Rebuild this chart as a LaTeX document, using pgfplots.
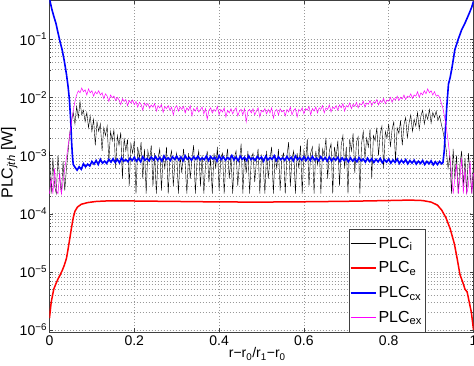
\documentclass[border=0pt]{standalone}
\usepackage{pgfplots}
\pgfplotsset{compat=1.18}
\usepackage{fontspec}
\setmainfont{Liberation Sans}
\definecolor{mblue}{RGB}{0,0,255}
\definecolor{mred}{RGB}{255,0,0}
\definecolor{mmag}{RGB}{255,0,255}
\begin{document}
\begin{tikzpicture}
\begin{axis}[
  at={(0pt,0pt)}, anchor=south west,
  scale only axis, width=424pt, height=332pt,
  ymode=log, xmin=0, xmax=1, ymin=9.2e-7, ymax=0.473,
  xtick={0,0.2,0.4,0.6,0.8,1}, xticklabels={0,0.2,0.4,0.6,0.8,1},
  ytick={1e-6,1e-5,1e-4,1e-3,1e-2,1e-1},
  yticklabels={10\textsuperscript{−6},10\textsuperscript{−5},10\textsuperscript{−4},10\textsuperscript{−3},10\textsuperscript{−2},10\textsuperscript{−1}},
  grid=both,
  major grid style={dash pattern=on 0.8pt off 2.2pt, gray!80, line width=0.5pt},
  minor grid style={dash pattern=on 0.8pt off 2.2pt, gray!80, line width=0.5pt},
  axis line style={gray!50!black, line width=0.5pt},
  tick style={gray!50!black},
  major tick length=4pt, minor tick length=2pt,
  tick label style={font=\fontsize{14}{16}\selectfont},
  yticklabel style={xshift=1pt},
  xlabel={r−r\textsubscript{0}/r\textsubscript{1}−r\textsubscript{0}},
  xlabel style={font=\fontsize{14}{16}\selectfont, at={(axis description cs:0.49,-0.066)}, anchor=center},
  ylabel={PLC\textsubscript{\itshape jth} [W]},
  ylabel style={font=\fontsize{16}{18}\selectfont, at={(axis description cs:-0.095,0.51)}, anchor=center},
  legend style={at={(0.886,0)}, anchor=south east, draw=gray!50!black, fill=white,
    font=\fontsize{16}{18}\selectfont, row sep=8pt, inner xsep=1pt, inner ysep=6pt},
  legend cell align=left,
  legend image code/.code={\draw[#1] (0pt,0pt) -- (25pt,0pt);},
]
% PLC_i (black)
\addplot[black, line width=0.4pt] table {
0.000 1.2e-3
0.004 2.2e-4
0.008 9e-4
0.012 3e-4
0.016 2.2e-4
0.020 1e-3
0.024 4e-4
0.028 2.2e-4
0.032 8e-4
0.036 2.5e-4
0.040 6e-4
0.044 1.2e-3
0.048 2.5e-3
0.052 4e-3
0.056 5.5e-3
0.060 3.5e-3
0.064 7e-3
0.068 4.5e-3
0.072 8.5e-3
0.076 5e-3
0.080 6e-3
0.084 3.8e-3
0.088 5.5e-3
0.092 3e-3
0.096 4.8e-3
0.100 2.6e-3
0.104 4.2e-3
0.108 1.5e-3
0.112 3.8e-3
0.116 2.6e-3
0.120 3.5e-3
0.124 1.2e-3
0.128 3e-3
0.132 2.2e-3
0.136 3.2e-3
0.140 8e-4
0.144 2.6e-3
0.148 1.8e-3
0.152 2.8e-3
0.156 6e-4
0.160 2.2e-3
0.164 1.5e-3
0.168 2.5e-3
0.172 4e-4
0.176 2e-3
0.180 1.2e-3
0.184 1.9e-3
0.188 3e-4
0.192 1.6e-3
0.196 1.1e-3
0.200 1.8e-3
0.204 2.2e-4
0.208 1.4e-3
0.212 9e-4
0.216 1.7e-3
0.220 4e-4
0.224 1.3e-3
0.228 2.2e-4
0.232 1.2e-3
0.236 8e-4
0.240 1.5e-3
0.244 3e-4
0.248 1.1e-3
0.252 2.2e-4
0.256 9e-4
0.260 1.3e-3
0.264 2.5e-4
0.268 1e-3
0.272 6e-4
0.276 1.4e-3
0.280 2.2e-4
0.284 9e-4
0.288 1.2e-3
0.292 3e-4
0.296 8e-4
0.300 1.1e-3
0.304 2.2e-4
0.308 1e-3
0.312 5e-4
0.316 1.3e-3
0.320 7e-4
0.324 2.2e-4
0.328 1.1e-3
0.332 4e-4
0.336 9e-4
0.340 1.5e-3
0.344 2.2e-4
0.348 8e-4
0.352 1.2e-3
0.356 3e-4
0.360 1e-3
0.364 2.2e-4
0.368 7e-4
0.372 1.2e-3
0.376 3.5e-4
0.380 9e-4
0.384 2.2e-4
0.388 1.1e-3
0.392 6e-4
0.396 1.4e-3
0.400 2.5e-4
0.404 9e-4
0.408 1.1e-3
0.412 2.2e-4
0.416 8e-4
0.420 1.3e-3
0.424 4e-4
0.428 1e-3
0.432 2.2e-4
0.436 9e-4
0.440 1.2e-3
0.444 3e-4
0.448 8e-4
0.452 1.6e-3
0.456 2.2e-4
0.460 1e-3
0.464 5e-4
0.468 1.2e-3
0.472 2.2e-4
0.476 9e-4
0.480 1.1e-3
0.484 3.5e-4
0.488 8e-4
0.492 1.3e-3
0.496 2.2e-4
0.500 1e-3
0.504 7e-4
0.508 2.2e-4
0.512 1.2e-3
0.516 4e-4
0.520 9e-4
0.524 1.4e-3
0.528 2.2e-4
0.532 1e-3
0.536 6e-4
0.540 1.3e-3
0.544 2.5e-4
0.548 9e-4
0.552 1.1e-3
0.556 2.2e-4
0.560 1e-3
0.564 1.7e-3
0.568 3e-4
0.572 9e-4
0.576 1.2e-3
0.580 2.2e-4
0.584 1.1e-3
0.588 6e-4
0.592 1.5e-3
0.596 2.2e-4
0.600 1.2e-3
0.604 8e-4
0.608 1.9e-3
0.612 3e-4
0.616 1.1e-3
0.620 1.4e-3
0.624 2.2e-4
0.628 1.2e-3
0.632 7e-4
0.636 1.6e-3
0.640 2.2e-4
0.644 1.3e-3
0.648 1e-3
0.652 2e-3
0.656 4e-4
0.660 1.2e-3
0.664 1.6e-3
0.668 2.2e-4
0.672 1.4e-3
0.676 9e-4
0.680 1.8e-3
0.684 3e-4
0.688 1.5e-3
0.692 2.2e-3
0.696 6e-4
0.700 1.4e-3
0.704 2.2e-4
0.708 1.9e-3
0.712 1.2e-3
0.716 2.4e-3
0.720 5e-4
0.724 1.7e-3
0.728 2.1e-3
0.732 2.2e-4
0.736 1.6e-3
0.740 2.6e-3
0.744 9e-4
0.748 2e-3
0.752 1.4e-3
0.756 2.8e-3
0.760 4e-4
0.764 2.2e-3
0.768 1.8e-3
0.772 3e-3
0.776 1e-3
0.780 2.4e-3
0.784 3.2e-3
0.788 6e-4
0.792 2.6e-3
0.796 2e-3
0.800 3.5e-3
0.804 1.4e-3
0.808 2.8e-3
0.812 3.8e-3
0.816 8e-4
0.820 3e-3
0.824 2.4e-3
0.828 4e-3
0.832 1.5e-3
0.836 3.4e-3
0.840 4.5e-3
0.844 2e-3
0.848 3.6e-3
0.852 5e-3
0.856 2.6e-3
0.860 4.2e-3
0.864 3.2e-3
0.868 5.5e-3
0.872 2.8e-3
0.876 4.8e-3
0.880 6e-3
0.884 3.5e-3
0.888 5.2e-3
0.892 4.2e-3
0.896 6.2e-3
0.900 3.6e-3
0.904 5.5e-3
0.908 4.5e-3
0.912 5.8e-3
0.916 4e-3
0.920 4.8e-3
0.924 3.5e-3
0.928 2.6e-3
0.932 1.8e-3
0.936 1.2e-3
0.940 6e-4
0.944 1e-3
0.948 2.2e-4
0.952 1.3e-3
0.956 4e-4
0.960 1e-3
0.964 2.2e-4
0.968 7e-4
0.972 1.2e-3
0.976 3e-4
0.980 9e-4
0.984 2.2e-4
0.988 1.1e-3
0.992 5e-4
0.996 2.2e-4
1.000 8e-4
};
\addlegendentry{PLC\textsubscript{i}}
% PLC_e (red)
\addplot[mred, line width=1.5pt] table {
0.000 1.6e-6
0.004 3e-6
0.010 5e-6
0.015 6.2e-6
0.020 7.5e-6
0.025 8.8e-6
0.030 1.05e-5
0.035 1.3e-5
0.040 1.7e-5
0.044 2.5e-5
0.048 3.8e-5
0.052 5.8e-5
0.056 8.5e-5
0.060 1.1e-4
0.066 1.3e-4
0.075 1.45e-4
0.090 1.55e-4
0.110 1.62e-4
0.140 1.66e-4
0.200 1.65e-4
0.300 1.62e-4
0.400 1.59e-4
0.500 1.58e-4
0.600 1.6e-4
0.700 1.63e-4
0.800 1.68e-4
0.850 1.71e-4
0.880 1.68e-4
0.900 1.58e-4
0.915 1.4e-4
0.925 1.15e-4
0.935 8.5e-5
0.945 5.5e-5
0.955 3e-5
0.962 1.6e-5
0.968 9e-6
0.975 6.5e-6
0.980 5e-6
0.985 4.5e-6
0.990 3e-6
0.995 2e-6
1.000 1e-6
};
\addlegendentry{PLC\textsubscript{e}}
% PLC_cx (blue)
\addplot[mblue, line width=1.6pt] table {
0.000 0.5
0.005 0.34
0.010 0.25
0.015 0.19
0.020 0.13
0.025 0.09
0.030 0.065
0.035 0.042
0.040 0.025
0.044 0.015
0.047 0.009
0.050 0.004
0.052 0.0018
0.054 0.001
0.056 7e-4
0.060 6.3e-4
0.065 5.6e-4
0.070 6.4e-4
0.075 5.8e-4
0.080 7.2e-4
0.085 6.4e-4
0.090 7.1e-4
0.095 6.6e-4
0.100 7.9e-4
0.105 7.1e-4
0.110 8.2e-4
0.115 7.0e-4
0.120 8.6e-4
0.125 7.4e-4
0.130 8.0e-4
0.135 7.3e-4
0.140 8.6e-4
0.145 7.7e-4
0.150 8.8e-4
0.155 7.6e-4
0.160 8.6e-4
0.165 7.5e-4
0.170 9.1e-4
0.175 8.0e-4
0.180 8.5e-4
0.185 7.8e-4
0.190 9.0e-4
0.195 8.2e-4
0.200 9.3e-4
0.205 8.0e-4
0.210 8.9e-4
0.215 7.8e-4
0.220 9.5e-4
0.225 8.3e-4
0.230 8.9e-4
0.235 8.1e-4
0.240 9.4e-4
0.245 8.4e-4
0.250 9.6e-4
0.255 8.3e-4
0.260 9.2e-4
0.265 8.0e-4
0.270 9.8e-4
0.275 8.5e-4
0.280 9.1e-4
0.285 8.2e-4
0.290 9.5e-4
0.295 8.6e-4
0.300 9.7e-4
0.305 8.4e-4
0.310 9.4e-4
0.315 8.1e-4
0.320 9.9e-4
0.325 8.6e-4
0.330 9.2e-4
0.335 8.3e-4
0.340 9.5e-4
0.345 8.6e-4
0.350 9.7e-4
0.355 8.4e-4
0.360 9.1e-4
0.365 8.5e-4
0.370 9.8e-4
0.375 8.2e-4
0.380 9.6e-4
0.385 8.7e-4
0.390 9.3e-4
0.395 8.0e-4
0.400 9.9e-4
0.405 8.5e-4
0.410 9.5e-4
0.415 8.3e-4
0.420 9.2e-4
0.425 8.6e-4
0.430 1.0e-3
0.435 8.4e-4
0.440 9.4e-4
0.445 8.1e-4
0.450 9.7e-4
0.455 8.6e-4
0.460 9.3e-4
0.465 8.2e-4
0.470 9.8e-4
0.475 8.5e-4
0.480 9.1e-4
0.485 8.3e-4
0.490 9.6e-4
0.495 8.7e-4
0.500 9.4e-4
0.505 8.0e-4
0.510 9.7e-4
0.515 8.4e-4
0.520 9.2e-4
0.525 8.6e-4
0.530 9.9e-4
0.535 8.2e-4
0.540 9.5e-4
0.545 8.5e-4
0.550 9.1e-4
0.555 8.3e-4
0.560 9.6e-4
0.565 8.4e-4
0.570 9.3e-4
0.575 8.1e-4
0.580 9.8e-4
0.585 8.5e-4
0.590 9.2e-4
0.595 8.3e-4
0.600 9.5e-4
0.605 8.2e-4
0.610 9.3e-4
0.615 8.2e-4
0.620 9.6e-4
0.625 8.4e-4
0.630 9.0e-4
0.635 8.1e-4
0.640 9.5e-4
0.645 8.3e-4
0.650 9.2e-4
0.655 8.0e-4
0.660 9.4e-4
0.665 8.1e-4
0.670 9.0e-4
0.675 8.3e-4
0.680 9.3e-4
0.685 7.9e-4
0.690 9.1e-4
0.695 8.2e-4
0.700 8.9e-4
0.705 7.8e-4
0.710 9.1e-4
0.715 8.0e-4
0.720 8.8e-4
0.725 7.8e-4
0.730 9.2e-4
0.735 8.1e-4
0.740 8.7e-4
0.745 7.7e-4
0.750 9.0e-4
0.755 7.9e-4
0.760 8.8e-4
0.765 7.6e-4
0.770 8.6e-4
0.775 7.8e-4
0.780 8.9e-4
0.785 7.5e-4
0.790 8.5e-4
0.795 7.7e-4
0.800 8.7e-4
0.805 7.4e-4
0.810 8.4e-4
0.815 7.6e-4
0.820 8.7e-4
0.825 7.3e-4
0.830 8.3e-4
0.835 7.5e-4
0.840 8.5e-4
0.845 7.2e-4
0.850 8.2e-4
0.855 7.4e-4
0.860 8.3e-4
0.865 7.1e-4
0.870 8.0e-4
0.875 7.3e-4
0.880 8.2e-4
0.885 7.0e-4
0.890 7.9e-4
0.895 7.2e-4
0.900 8.1e-4
0.905 6.9e-4
0.910 7.8e-4
0.915 7.0e-4
0.920 7.9e-4
0.925 7.2e-4
0.928 7.6e-4
0.931 1.2e-3
0.934 3e-3
0.937 7e-3
0.941 1.7e-2
0.945 2.2e-2
0.950 3.5e-2
0.956 6.6e-2
0.964 0.1
0.972 0.145
0.980 0.19
0.990 0.28
0.996 0.36
1.000 0.45
};
\addlegendentry{PLC\textsubscript{cx}}
% PLC_ex (magenta)
\addplot[mmag, line width=0.5pt] table {
0.000 2.2e-4
0.004 4e-4
0.008 2.2e-4
0.012 6e-4
0.016 2.5e-4
0.020 2.2e-4
0.024 5e-4
0.028 2.2e-4
0.032 3.5e-4
0.036 6e-4
0.040 9e-4
0.044 1.5e-3
0.048 2.4e-3
0.052 3.8e-3
0.056 6e-3
0.060 8.5e-3
0.064 1.1e-2
0.068 1.3e-2
0.072 1.2e-2
0.076 1.45e-2
0.080 1.25e-2
0.084 1.35e-2
0.088 1.1e-2
0.092 1.4e-2
0.096 1.2e-2
0.100 1.3e-2
0.104 1.05e-2
0.108 1.25e-2
0.112 1.15e-2
0.116 1.3e-2
0.120 1.1e-2
0.124 1.2e-2
0.128 9.5e-3
0.132 1.15e-2
0.136 1.05e-2
0.140 8.5e-3
0.144 1.1e-2
0.148 9.8e-3
0.152 1.05e-2
0.156 8.8e-3
0.160 1e-2
0.164 9e-3
0.168 7.5e-3
0.172 9.5e-3
0.176 8.5e-3
0.180 9.2e-3
0.184 7.2e-3
0.188 8.8e-3
0.192 8e-3
0.196 9e-3
0.200 7.5e-3
0.204 8.5e-3
0.208 6.8e-3
0.212 8.2e-3
0.216 7.6e-3
0.220 6e-3
0.224 8e-3
0.228 7.2e-3
0.232 7.8e-3
0.236 6.5e-3
0.240 7.4e-3
0.244 6.8e-3
0.248 7.8e-3
0.252 5.8e-3
0.256 7.2e-3
0.260 6.6e-3
0.264 7.5e-3
0.268 5.5e-3
0.272 7e-3
0.276 6.4e-3
0.280 7.2e-3
0.284 6e-3
0.288 6.8e-3
0.292 5e-3
0.296 6.6e-3
0.300 7.2e-3
0.304 5.8e-3
0.308 6.8e-3
0.312 6.2e-3
0.316 7e-3
0.320 5.4e-3
0.324 6.6e-3
0.328 6e-3
0.332 7.2e-3
0.336 4.8e-3
0.340 6.4e-3
0.344 5.8e-3
0.348 6.8e-3
0.352 5.6e-3
0.356 6.2e-3
0.360 6.8e-3
0.364 5.2e-3
0.368 6.4e-3
0.372 4.2e-3
0.376 6e-3
0.380 6.6e-3
0.384 5.4e-3
0.388 6.2e-3
0.392 5.8e-3
0.396 7e-3
0.400 5e-3
0.404 6.2e-3
0.408 5.6e-3
0.412 6.6e-3
0.416 4.6e-3
0.420 6e-3
0.424 5.4e-3
0.428 6.4e-3
0.432 5.2e-3
0.436 6e-3
0.440 6.6e-3
0.444 4.8e-3
0.448 5.8e-3
0.452 6.2e-3
0.456 5e-3
0.460 6.4e-3
0.464 3.8e-3
0.468 5.8e-3
0.472 6.2e-3
0.476 5.4e-3
0.480 6.4e-3
0.484 5e-3
0.488 5.8e-3
0.492 6.6e-3
0.496 4.6e-3
0.500 6e-3
0.504 5.6e-3
0.508 6.4e-3
0.512 5.2e-3
0.516 6.2e-3
0.520 5.4e-3
0.524 6.6e-3
0.528 4.4e-3
0.532 5.8e-3
0.536 6.2e-3
0.540 5e-3
0.544 6.4e-3
0.548 5.6e-3
0.552 6e-3
0.556 4.8e-3
0.560 6.2e-3
0.564 5.6e-3
0.568 6.8e-3
0.572 5e-3
0.576 6e-3
0.580 6.4e-3
0.584 4.6e-3
0.588 6.2e-3
0.592 5.8e-3
0.596 6.6e-3
0.600 5.2e-3
0.604 6.4e-3
0.608 6e-3
0.612 7e-3
0.616 5e-3
0.620 6.4e-3
0.624 5.8e-3
0.628 6.8e-3
0.632 5.4e-3
0.636 6.6e-3
0.640 6.2e-3
0.644 7.2e-3
0.648 5.4e-3
0.652 6.6e-3
0.656 6.2e-3
0.660 7.4e-3
0.664 5.6e-3
0.668 6.8e-3
0.672 6.4e-3
0.676 7.2e-3
0.680 6e-3
0.684 7.4e-3
0.688 6.6e-3
0.692 7.8e-3
0.696 5.8e-3
0.700 7.2e-3
0.704 6.8e-3
0.708 8e-3
0.712 6.4e-3
0.716 7.6e-3
0.720 7e-3
0.724 8.2e-3
0.728 6.6e-3
0.732 7.8e-3
0.736 7.4e-3
0.740 8.6e-3
0.744 6.8e-3
0.748 8e-3
0.752 7.6e-3
0.756 8.8e-3
0.760 7.2e-3
0.764 8.4e-3
0.768 8e-3
0.772 9.2e-3
0.776 7.4e-3
0.780 8.8e-3
0.784 8.2e-3
0.788 9.6e-3
0.792 7.8e-3
0.796 9e-3
0.800 8.6e-3
0.804 1e-2
0.808 8.2e-3
0.812 9.6e-3
0.816 9e-3
0.820 1.05e-2
0.824 8.8e-3
0.828 1e-2
0.832 9.4e-3
0.836 1.1e-2
0.840 9.2e-3
0.844 1.05e-2
0.848 1e-2
0.852 1.15e-2
0.856 9.6e-3
0.860 1.1e-2
0.864 1.05e-2
0.868 1.25e-2
0.872 1e-2
0.876 1.2e-2
0.880 1.1e-2
0.884 1.3e-2
0.888 1.15e-2
0.892 1.4e-2
0.896 1.2e-2
0.900 1.3e-2
0.904 1.1e-2
0.908 1.25e-2
0.912 1.05e-2
0.916 1.1e-2
0.920 1e-2
0.924 8e-3
0.928 6.5e-3
0.932 4.5e-3
0.936 3e-3
0.940 1.8e-3
0.944 1e-3
0.948 5e-4
0.952 2.2e-4
0.956 4e-4
0.960 7e-4
0.964 2.2e-4
0.968 4e-4
0.972 9e-4
0.976 2.2e-4
0.980 6e-4
0.984 2.2e-4
0.988 3e-4
0.992 8e-4
0.996 2.2e-4
1.000 5e-4
};
\addlegendentry{PLC\textsubscript{ex}}
\end{axis}
\pgfresetboundingbox
\path[use as bounding box] (-49.5pt,-33pt) rectangle (424.5pt,332pt);
\end{tikzpicture}
\end{document}
